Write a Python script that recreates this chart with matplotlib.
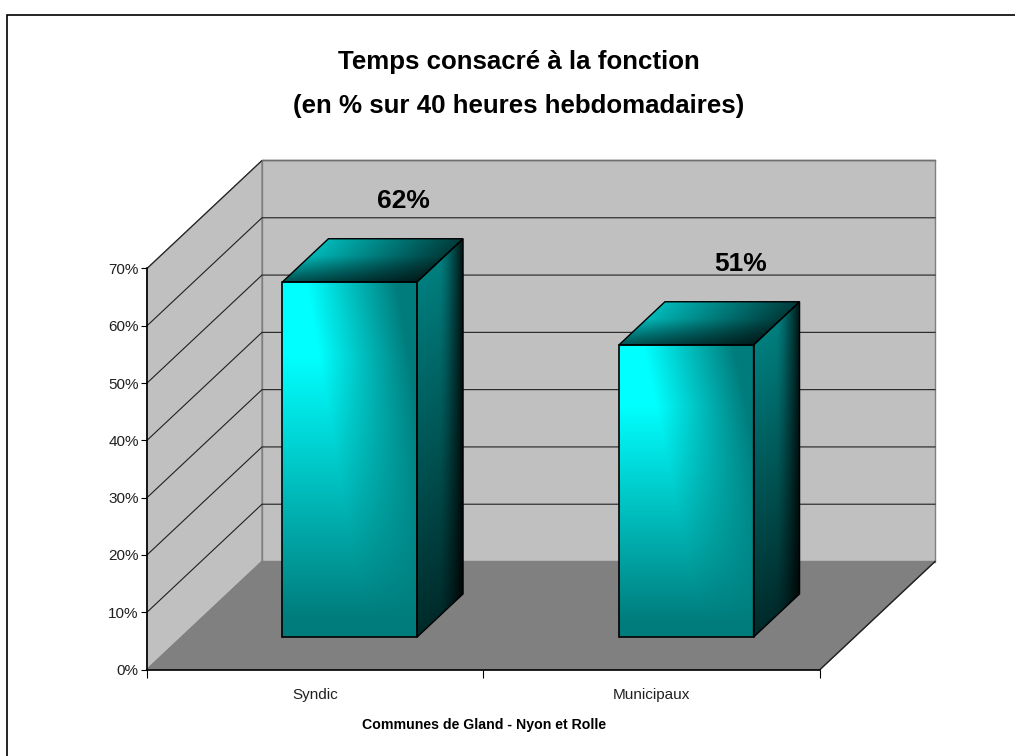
import numpy as np
import matplotlib
matplotlib.use('Agg')
import matplotlib.pyplot as plt
from matplotlib.lines import Line2D
from matplotlib.patches import Polygon

# valeurs du graphique
categories = ['Syndic', 'Municipaux']
valeurs = [62, 51]
etiquettes = ['62%', '51%']
yticks = [0, 10, 20, 30, 40, 50, 60, 70]
ytick_labels = ['0%', '10%', '20%', '30%', '40%', '50%', '60%', '70%']

W, H = 1015, 756
# plan avant en pixels
x0_px, x1_px, y0_px, y70_px = 147, 820, 669.5, 268.5

fig = plt.figure(figsize=(W / 100, H / 100), dpi=100, facecolor='white')
ax = fig.add_axes([x0_px / W, 1 - y0_px / H, (x1_px - x0_px) / W, (y0_px - y70_px) / H])
ax.patch.set_visible(False)

# profondeur de la perspective, en unites de donnees
dx = 115 / ((x1_px - x0_px) / 2)
dy = 108 / ((y0_px - y70_px) / 70)
p_av, p_ar = 0.3, 0.7  # debut et fin de la barre dans la profondeur
larg = 0.4


def proj(x, y, d):
    return (x + d * dx, y + d * dy)


# murs et sol
ax.add_patch(Polygon([proj(0, 0, 1), proj(2, 0, 1), proj(2, 70, 1), proj(0, 70, 1)],
                     fc='#c0c0c0', ec='#808080', lw=1, clip_on=False, zorder=1))
ax.add_patch(Polygon([proj(0, 0, 0), proj(0, 0, 1), proj(0, 70, 1), proj(0, 70, 0)],
                     fc='#c0c0c0', ec='#808080', lw=1, clip_on=False, zorder=1))
ax.add_patch(Polygon([proj(0, 0, 0), proj(2, 0, 0), proj(2, 0, 1), proj(0, 0, 1)],
                     fc='#808080', ec='#808080', lw=1, clip_on=False, zorder=1))
a, b = proj(2, 0, 0), proj(2, 0, 1)
ax.plot([a[0], b[0]], [a[1], b[1]], color='#202020', lw=1, clip_on=False, zorder=2)

# grille
for v in yticks[1:]:
    a, b, c = proj(0, v, 0), proj(0, v, 1), proj(2, v, 1)
    ax.plot([a[0], b[0], c[0]], [a[1], b[1], c[1]], color='#202020', lw=0.8, clip_on=False, zorder=2)
a, b = proj(0, 70, 1), proj(2, 70, 1)
ax.plot([a[0], b[0]], [a[1], b[1]], color='#707070', lw=1, clip_on=False, zorder=2)


def degrade(poly, fonction, zorder):
    # remplit un polygone avec un degrade calcule sur sa boite
    pts = np.array(poly)
    xmin, ymin = pts.min(axis=0)
    xmax, ymax = pts.max(axis=0)
    X, Y = np.meshgrid(np.linspace(xmin, xmax, 300), np.linspace(ymin, ymax, 300))
    br = np.clip(fonction(X, Y), 0, 1)
    img = np.dstack([np.zeros_like(br), br, br])
    im = ax.imshow(img, extent=[xmin, xmax, ymin, ymax], origin='lower', aspect='auto',
                   zorder=zorder, interpolation='bilinear')
    patch = Polygon(poly, fc='none', ec='none', transform=ax.transData)
    ax.add_patch(patch)
    im.set_clip_box(fig.bbox)  # sinon l'image est coupee au bord des axes
    im.set_clip_path(patch)


def barre(i, val):
    xg = i + 0.5 - larg / 2
    xd = xg + larg
    prof = p_ar - p_av

    # face avant
    ox, oy = proj(xg, 0, p_av)

    def f_avant(X, Y):
        u = (X - ox) / larg
        w = (Y - oy) / val
        u2 = u - 0.45 * (1 - w)
        h = np.clip(1 - (u2 - 0.18) / 0.67, 0, 1)
        v = np.clip((w - 0.05) / 0.74, 0, 1)
        return (124 + 131 * h * v) / 255

    # face droite
    sx, sy = proj(xd, 0, p_av)

    def f_cote(X, Y):
        u = (X - sx) / (prof * dx)
        w = np.clip((Y - sy - u * prof * dy) / val, 0, 1)
        base = 42 + 85 * w
        att = 1 - 0.85 * np.clip((u - 0.5) / 0.5, 0, 1) ** 1.3
        return base * att / 255

    # dessus
    tx, ty = proj(xg, val, p_av)

    def f_dessus(X, Y):
        v = (Y - ty) / (prof * dy)
        u = (X - tx - v * prof * dx) / larg
        base = 185 - 125 * np.clip(u, 0, 1)
        g = 0.45 + 0.55 * np.clip(v / 0.6, 0, 1)
        return base * g / 255

    avant = [proj(xg, 0, p_av), proj(xd, 0, p_av), proj(xd, val, p_av), proj(xg, val, p_av)]
    cote = [proj(xd, 0, p_av), proj(xd, 0, p_ar), proj(xd, val, p_ar), proj(xd, val, p_av)]
    dessus = [proj(xg, val, p_av), proj(xd, val, p_av), proj(xd, val, p_ar), proj(xg, val, p_ar)]
    degrade(cote, f_cote, 3)
    degrade(dessus, f_dessus, 3)
    degrade(avant, f_avant, 3)
    for poly, lw in ((cote, 1), (dessus, 1), (avant, 1.2)):
        ax.add_patch(Polygon(poly, fc='none', ec='black', lw=lw, clip_on=False, zorder=4))


for i, val in enumerate(valeurs):
    barre(i, val)
    ax.annotate(etiquettes[i], xy=proj(i + 0.5, val, 0.5), xytext=(31, 59), textcoords='offset pixels',
                ha='center', va='center', fontsize=19, fontweight='bold', annotation_clip=False,
                family='Liberation Sans', color='black', zorder=5)

ax.set_xlim(0, 2)
ax.set_ylim(0, 70)

# axes
for s in ('top', 'right'):
    ax.spines[s].set_visible(False)
for s in ('left', 'bottom'):
    ax.spines[s].set_color('black')
    ax.spines[s].set_linewidth(1.2)
    ax.spines[s].set_zorder(5)
ax.set_yticks(yticks)
ax.set_yticklabels(ytick_labels, family='Liberation Sans', fontsize=11, color='#202020')
ax.set_xticks([0, 1, 2])
ax.set_xticklabels([])
ax.set_xticks([0.5, 1.5], minor=True)
ax.set_xticklabels(categories, minor=True, family='Liberation Sans', fontsize=11, color='#202020')
ax.tick_params(axis='y', length=4, width=0.8, pad=2)
ax.tick_params(axis='x', which='major', length=6, width=0.8)
ax.tick_params(axis='x', which='minor', length=0, pad=13.5)

# titres
fig.text(519 / W, 1 - 69 / H, 'Temps consacré à la fonction', ha='center', va='baseline',
         fontsize=18.6, fontweight='bold', family='Liberation Sans')
fig.text(519 / W, 1 - 112.5 / H, '(en % sur 40 heures hebdomadaires)', ha='center', va='baseline',
         fontsize=18.6, fontweight='bold', family='Liberation Sans')
fig.text(484 / W, 1 - 725 / H, 'Communes de Gland - Nyon et Rolle', ha='center', va='center',
         fontsize=10.2, fontweight='bold', family='Liberation Sans')

# cadre: seulement en haut et a gauche
fig.add_artist(Line2D([7 / W, 7 / W, 1], [0, 1 - 14.5 / H, 1 - 14.5 / H], transform=fig.transFigure,
                      color='black', lw=1.2, solid_joinstyle='miter'))

fig.savefig('out.png', dpi=100)
